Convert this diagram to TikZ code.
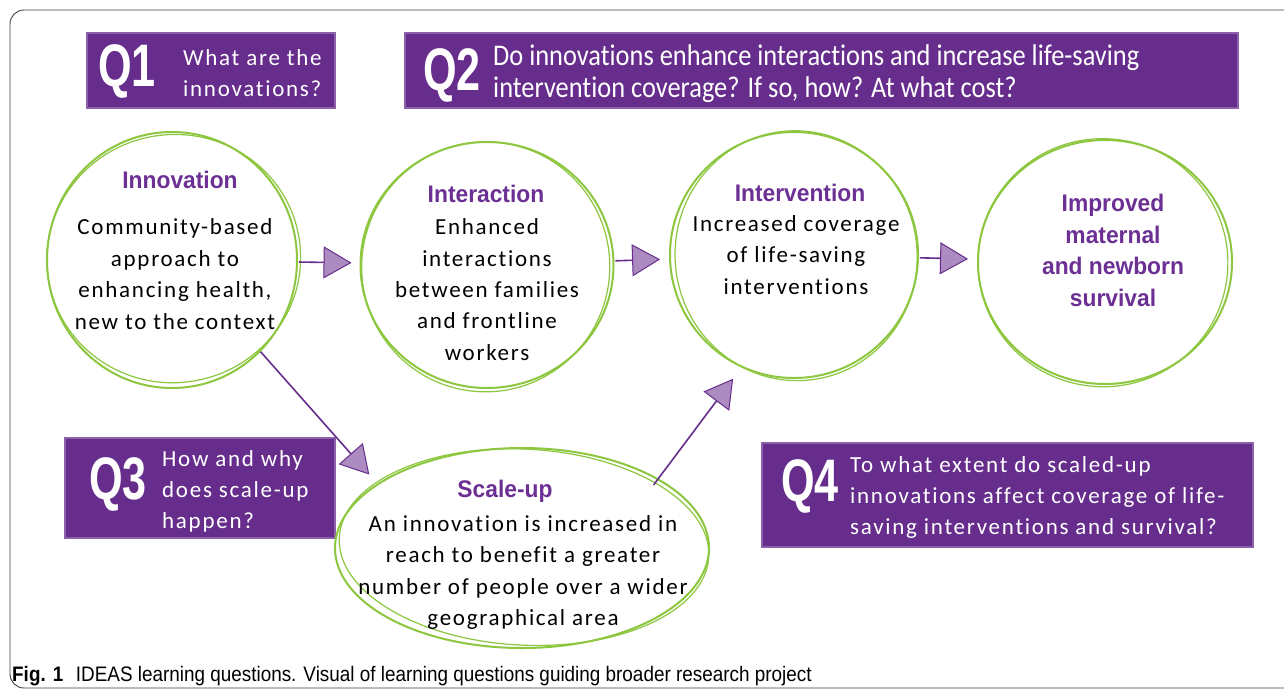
\documentclass[tikz,border=0pt]{standalone}
\usepackage{fontspec}
\setmainfont{Carlito}
\usetikzlibrary{arrows.meta,shapes.geometric}
\definecolor{qpurple}{RGB}{102,45,140}
\definecolor{tpurple}{RGB}{108,48,148}
\definecolor{lgreen}{RGB}{141,198,63}
\newfontfamily\bodyf{Carlito}[LetterSpace=7.5,Ligatures=NoCommon]
\newfontfamily\headf{Liberation Sans}[FakeStretch=0.95]
\newfontfamily\qlab{Liberation Sans}[FakeStretch=0.72]
\newfontfamily\qtwo{Carlito}[FakeStretch=0.88,Ligatures=NoCommon]
\newfontfamily\capf{Liberation Sans}[FakeStretch=0.9]
\tikzset{
  body/.style={font=\bodyf\fontsize{23}{31.4}\selectfont, align=center, text=black, inner sep=0pt},
  ttl/.style={font=\headf\bfseries\fontsize{24}{31.5}\selectfont, align=center, text=tpurple, inner sep=0pt},
  ring/.style={ellipse, draw=lgreen, line width=2pt, inner sep=0pt},
  sketch/.style={draw=lgreen, line width=1.2pt},
  qbox/.style={fill=qpurple, draw=qpurple!75!white, line width=1.5pt, inner sep=0pt},
  qlabel/.style={font=\qlab\bfseries\fontsize{60}{60}\selectfont, text=white, inner sep=0pt},
  qtext/.style={font=\bodyf\fontsize{23}{31}\selectfont, text=white, align=left, inner sep=0pt},
  qtexttwo/.style={font=\qtwo\fontsize{30}{32}\selectfont, text=white, align=left, inner sep=0pt},
  arr/.style={draw=qpurple, line width=1.6pt,
    -{Triangle[length=28pt,width=32pt,fill=qpurple!55,color=qpurple,line width=1pt]}},
}
\begin{document}
\begin{tikzpicture}[x=1pt,y=-1pt]
\useasboundingbox (0,0) rectangle (1284,691);
\fill[white] (0,0) rectangle (1284,691);
\draw[black!75, line width=0.9pt, rounded corners=14pt] (10,10) rectangle (1310,688);

% question boxes
\node[qbox, minimum width=248pt, minimum height=75pt] (q1) at (211,70.5) {};
\node[qbox, minimum width=833pt, minimum height=75pt] (q2) at (821.5,70.5) {};
\node[qbox, minimum width=270pt, minimum height=100pt] (q3) at (200,488) {};
\node[qbox, minimum width=491pt, minimum height=104pt] (q4) at (1007.5,495) {};

\node[qlabel] (q1l) at (127,71) {Q1};
\node[qtext, anchor=west] (q1t) at (183,73.5) {What are the\\innovations?};
\node[qlabel] (q2l) at (452,75) {Q2};
\node[qtexttwo, anchor=west] (q2t) at (493,74) {Do innovations enhance interactions and increase life-saving\\intervention coverage? If so, how? At what cost?};
\node[qlabel] (q3l) at (118,484) {Q3};
\node[qtext, anchor=west] (q3t) at (162,491) {How and why\\does scale-up\\happen?};
\node[qlabel] (q4l) at (810,486) {Q4};
\node[qtext, anchor=west] (q4t) at (850,497.5) {To what extent do scaled-up\\innovations affect coverage of life-\\saving interventions and survival?};

% rings
\node[ring, minimum width=250pt, minimum height=256pt] (inno) at (172,260) {};
\node[ring, minimum width=253pt, minimum height=246pt] (inter) at (487,265) {};
\node[ring, minimum width=248pt, minimum height=246pt] (interv) at (794,255) {};
\node[ring, minimum width=254pt, minimum height=244pt] (impr) at (1105,262) {};
\node[ring, minimum width=374pt, minimum height=200pt] (scale) at (522,548) {};

\draw[sketch, rotate around={12:(inno.center)}] ([shift={(2,-1)}]inno.center) ellipse [x radius=127pt, y radius=124pt];
\draw[sketch, rotate around={-10:(inter.center)}] ([shift={(-1,2)}]inter.center) ellipse [x radius=124pt, y radius=125pt];
\draw[sketch, rotate around={8:(interv.center)}] ([shift={(2,1)}]interv.center) ellipse [x radius=121pt, y radius=125pt];
\draw[sketch, rotate around={-8:(impr.center)}] ([shift={(-2,1)}]impr.center) ellipse [x radius=125pt, y radius=124pt];
\draw[sketch, rotate around={-3:(scale.center)}] ([shift={(2,-1)}]scale.center) ellipse [x radius=185pt, y radius=98pt];

% texts
\node[ttl] (innot) at (180,180) {Innovation};
\node[body] (innob) at (175,274) {Community-based\\approach to\\enhancing health,\\new to the context};
\node[ttl] (intert) at (486,194) {Interaction};
\node[body] (interb) at (487,289.5) {Enhanced\\interactions\\between families\\and frontline\\workers};
\node[ttl] (intervt) at (800,193) {Intervention};
\node[body] (intervb) at (796,255) {Increased coverage\\of life-saving\\interventions};
\node[ttl] (imprt) at (1113,250.5) {Improved\\maternal\\and newborn\\survival};
\node[ttl] (scalet) at (505,491) {Scale-up};
\node[body] (scaleb) at (523,572.5) {An innovation is increased in\\reach to benefit a greater\\number of people over a wider\\geographical area};

% arrows
\draw[arr, shorten <=1pt, shorten >=8pt] (inno) -- (inter);
\draw[arr, shorten <=1pt, shorten >=9pt] (inter) -- (interv);
\draw[arr, shorten <=1pt, shorten >=9pt] (interv) -- (impr);
\draw[arr, shorten >=12pt] (inno.-46) -- (scale.156);
\draw[arr, shorten <=-8pt, shorten >=14pt] (scale.27) -- (interv.-115);

% caption
\node[anchor=base west, font=\capf\fontsize{21}{21}\selectfont, inner sep=0pt] (cap) at (12,681) {\textbf{Fig. 1}\hspace{0.6em}IDEAS learning questions. Visual of learning questions guiding broader research project};
\end{tikzpicture}
\end{document}
